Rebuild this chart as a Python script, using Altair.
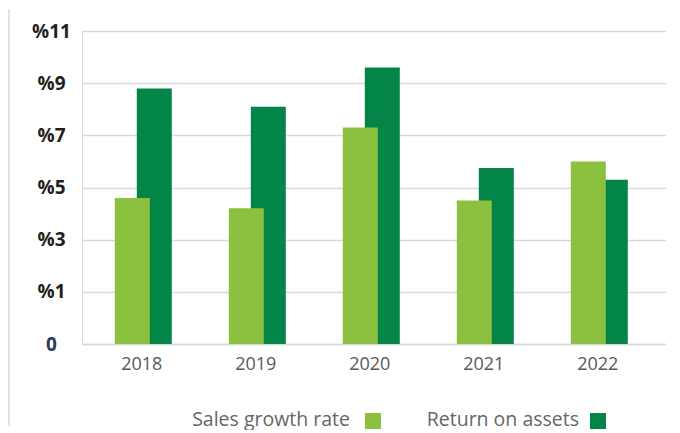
import altair as alt
import pandas as pd

years = ["2018", "2019", "2020", "2021", "2022"]
series = ["Sales growth rate", "Return on assets"]
sales_growth = [4.6, 4.2, 7.3, 4.5, 6.0]
return_on_assets = [8.8, 8.1, 9.6, 5.75, 5.3]
tick_values = [-1, 1, 3, 5, 7, 9, 11]
colors = ["#8cc13f", "#038547"]

rows = []
for y, s, r in zip(years, sales_growth, return_on_assets):
    rows.append({"year": y, "series": series[0], "value": s})
    rows.append({"year": y, "series": series[1], "value": r})
df = pd.DataFrame(rows)

FONT = "Open Sans"

x_enc = alt.X(
    "year:N",
    sort=years,
    title=None,
    scale=alt.Scale(paddingInner=0, paddingOuter=0.0614, align=0.2),
    axis=alt.Axis(
        labelAngle=0,
        labelFont=FONT,
        labelFontSize=18,
        labelColor="#595959",
        labelPadding=11,
        ticks=False,
        tickSize=0,
        domainColor="#d9d9d9",
        domainWidth=1.5,
        grid=False,
    ),
)
y_enc = alt.Y(
    "value:Q",
    title=None,
    scale=alt.Scale(domain=[-1, 11], nice=False, zero=False),
    axis=alt.Axis(
        values=tick_values,
        labelExpr="datum.value == -1 ? '0' : '%' + datum.value",
        labelFont=FONT,
        labelFontSize=19,
        labelFontWeight="bold",
        labelColor=alt.condition("datum.value == -1", alt.value("#2b3a5a"), alt.value("#231f20")),
        labelAlign="center",
        labelPadding=31,
        ticks=False,
        tickSize=0,
        domain=False,
        grid=True,
        gridColor="#d9d9d9",
        gridWidth=1.5,
    ),
)
color_enc = alt.Color("series:N", scale=alt.Scale(domain=series, range=colors), legend=None)

base = alt.Chart(df)
dark = base.transform_filter(alt.datum.series == series[1]).mark_bar(width=35, xOffset=12.5).encode(
    x=x_enc, y=y_enc, y2=alt.datum(-1), color=color_enc
)
light = base.transform_filter(alt.datum.series == series[0]).mark_bar(width=35, xOffset=-9.5).encode(
    x=x_enc, y=y_enc, y2=alt.datum(-1), color=color_enc
)

left_rule = alt.Chart(pd.DataFrame({"a": [0]})).mark_rule(color="#d9d9d9", strokeWidth=1.5).encode(
    x=alt.value(-73), y=alt.value(-22), y2=alt.value(395)
)

legend_layers = []
legend_text_x = [268, 497]
legend_sq_x = [291, 516]
for i, name in enumerate(series):
    ldf = pd.DataFrame({"label": [name]})
    legend_layers.append(
        alt.Chart(ldf).mark_text(align="right", baseline="alphabetic", font=FONT, fontSize=19.5, color="#666666").encode(
            x=alt.value(legend_text_x[i]), y=alt.value(395), text="label:N"
        )
    )
    legend_layers.append(
        alt.Chart(ldf).mark_square(size=256, opacity=1, color=colors[i]).encode(
            x=alt.value(legend_sq_x[i]), y=alt.value(390)
        )
    )

chart = alt.layer(left_rule, dark, light, *legend_layers).properties(
    width=584, height=313, padding={"left": 0, "top": 0, "right": 0, "bottom": 0}
).configure_view(stroke=None).configure(background="white")

chart.save("out.html", embed_options={"renderer": "svg", "actions": False})
